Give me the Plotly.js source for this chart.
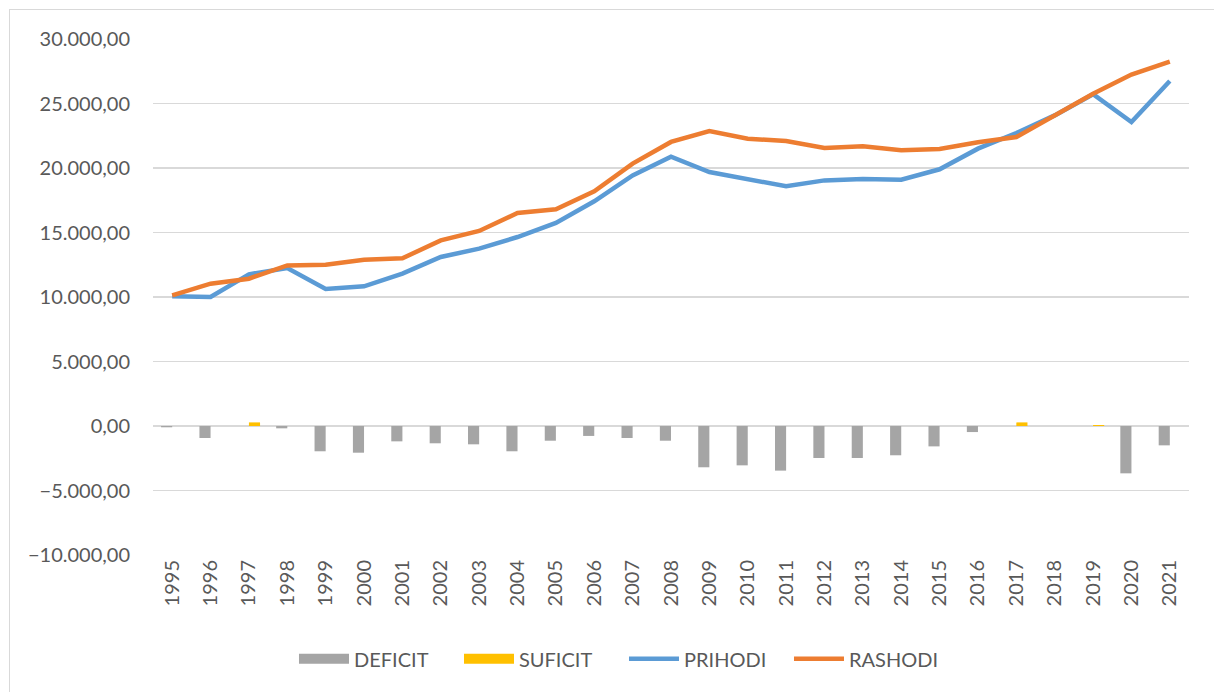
<!DOCTYPE html>
<html>
<head>
<meta charset="utf-8">
<script src="https://cdn.plot.ly/plotly-3.0.1.min.js"></script>
<style>
html,body{margin:0;padding:0;background:#fff;overflow:hidden;}
#chart{width:1214px;height:692px;position:absolute;left:0;top:0;}
#frame{position:absolute;left:9px;top:9px;width:1400px;height:900px;border:1.5px solid #d9d9d9;pointer-events:none;}
</style>
</head>
<body>
<div id="chart"></div>
<div id="frame"></div>
<script>
const years = ['1995','1996','1997','1998','1999','2000','2001','2002','2003','2004','2005','2006','2007','2008','2009','2010','2011','2012','2013','2014','2015','2016','2017','2018','2019','2020','2021'];
const deficit = [-100,-930,0,-180,-1960,-2070,-1190,-1340,-1420,-1960,-1140,-770,-930,-1140,-3200,-3050,-3460,-2480,-2480,-2270,-1580,-470,0,0,0,-3670,-1500];
const suficit = [0,0,280,0,0,0,0,0,0,0,0,0,0,0,0,0,0,0,0,0,0,0,280,0,80,0,0];
const prihodi = [10050,10000,11760,12250,10620,10830,11810,13100,13750,14650,15740,17420,19430,20870,19690,19170,18580,19040,19150,19090,19900,21500,22710,24080,25720,23570,26750];
const rashodi = [10130,11030,11420,12450,12500,12890,13000,14390,15120,16510,16800,18190,20340,22020,22870,22270,22090,21550,21680,21370,21470,21990,22400,24080,25760,27240,28250];

const fontFam = 'Lato, Carlito, Calibri, sans-serif';
const txt = '#595959';
const cDef = '#A5A5A5', cSuf = '#FFC000', cPri = '#5B9BD5', cRas = '#ED7D31';

const traces = [
  {type:'bar', name:'DEFICIT', x:years, y:deficit, showlegend:false, marker:{color:cDef, line:{width:0}}},
  {type:'bar', name:'SUFICIT', x:years, y:suficit, showlegend:false, marker:{color:cSuf, line:{width:0}}},
  // legend-only entries drawn as wide blocks, like the reference legend
  {type:'scatter', mode:'lines', name:'DEFICIT', x:[null], y:[null], line:{color:cDef, width:12}, hoverinfo:'skip'},
  {type:'scatter', mode:'lines', name:'SUFICIT', x:[null], y:[null], line:{color:cSuf, width:12}, hoverinfo:'skip'},
  {type:'scatter', mode:'lines', name:'PRIHODI', x:years, y:prihodi, line:{color:cPri, width:4.5}},
  {type:'scatter', mode:'lines', name:'RASHODI', x:years, y:rashodi, line:{color:cRas, width:4.5}}
];

const layout = {
  width:1214, height:692,
  margin:{l:153, r:25, t:39, b:137},
  paper_bgcolor:'#fff', plot_bgcolor:'#fff',
  separators:',.',
  barmode:'group', bargap:0.42, bargroupgap:0,
  font:{family:fontFam, size:20, color:txt},
  showlegend:true,
  legend:{orientation:'h', xref:'container', x:0.514, xanchor:'center', yref:'container', y:0.048, yanchor:'middle',
          font:{family:fontFam, size:20, color:txt}, traceorder:'normal', itemwidth:50,
          entrywidth:100, entrywidthmode:'pixels'},
  xaxis:{type:'category', tickangle:-90, showgrid:false, zeroline:false, showline:false, ticks:'',
         tickfont:{family:fontFam, size:20, color:txt}},
  yaxis:{range:[-10000,30000], dtick:5000, tick0:0, tickformat:',.2f', showgrid:true, gridcolor:'#d9d9d9', gridwidth:1.3,
         zeroline:true, zerolinecolor:'#d9d9d9', zerolinewidth:1.3, showline:false, ticks:'',
         tickfont:{family:fontFam, size:20, color:txt}, ticklabelstandoff:22}
};

Plotly.newPlot('chart', traces, layout, {displayModeBar:false, staticPlot:true});
</script>
</body>
</html>
